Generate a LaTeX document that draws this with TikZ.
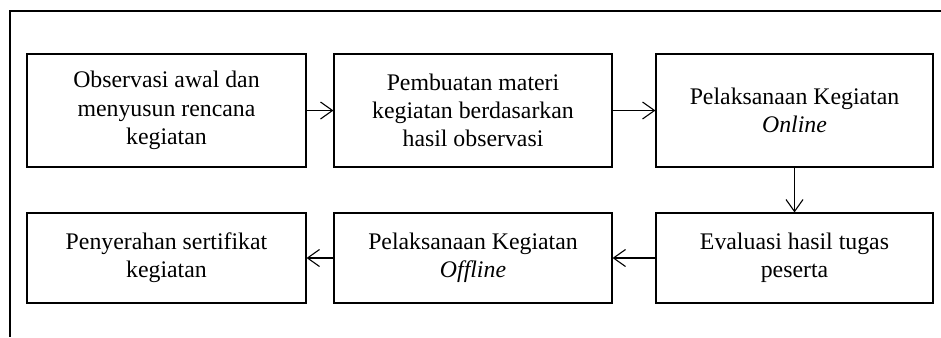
\documentclass[tikz,border=0pt]{standalone}
\usepackage{fontspec}
\setmainfont{Liberation Serif}
\usetikzlibrary{arrows.meta}
\begin{document}
\begin{tikzpicture}[x=1bp,y=-1bp,
  stepbox/.style={draw, line width=1.1bp, align=center, inner sep=0pt,
    font=\fontsize{23.8bp}{28.3bp}\selectfont},
  toprow/.style={stepbox, minimum width=279bp, minimum height=113bp},
  botrow/.style={stepbox, minimum width=278bp, minimum height=90bp},
  flow/.style={line width=1.1bp, -{Straight Barb[length=12bp,width=17bp,line width=1.1bp]}},
  frame/.style={line width=1.3bp}]
\useasboundingbox (0,0) rectangle (941,337);
\draw[frame] (941,11) -- (10,11) -- (10,337);
\node[toprow] (b1) at (166.5,110.5) {Observasi awal dan\\menyusun rencana\\kegiatan};
\node[toprow, minimum width=278bp] (b2) at (473,110.5) {Pembuatan materi\\kegiatan berdasarkan\\hasil observasi};
\node[toprow, minimum width=277bp] (b3) at (794.5,110.5) {Pelaksanaan Kegiatan\\\textit{Online}};
\node[botrow, minimum width=279bp] (b4) at (166.5,258) {Penyerahan sertifikat\\kegiatan};
\node[botrow] (b5) at (473,258) {Pelaksanaan Kegiatan\\\textit{Offline}};
\node[botrow, minimum width=277bp] (b6) at (794.5,258) {Evaluasi hasil tugas\\peserta};
\draw[flow] (b1) -- (b2);
\draw[flow] (b2) -- (b3);
\draw[flow] (b3) -- (b6);
\draw[flow] (b6) -- (b5);
\draw[flow] (b5) -- (b4);
\end{tikzpicture}
\end{document}
